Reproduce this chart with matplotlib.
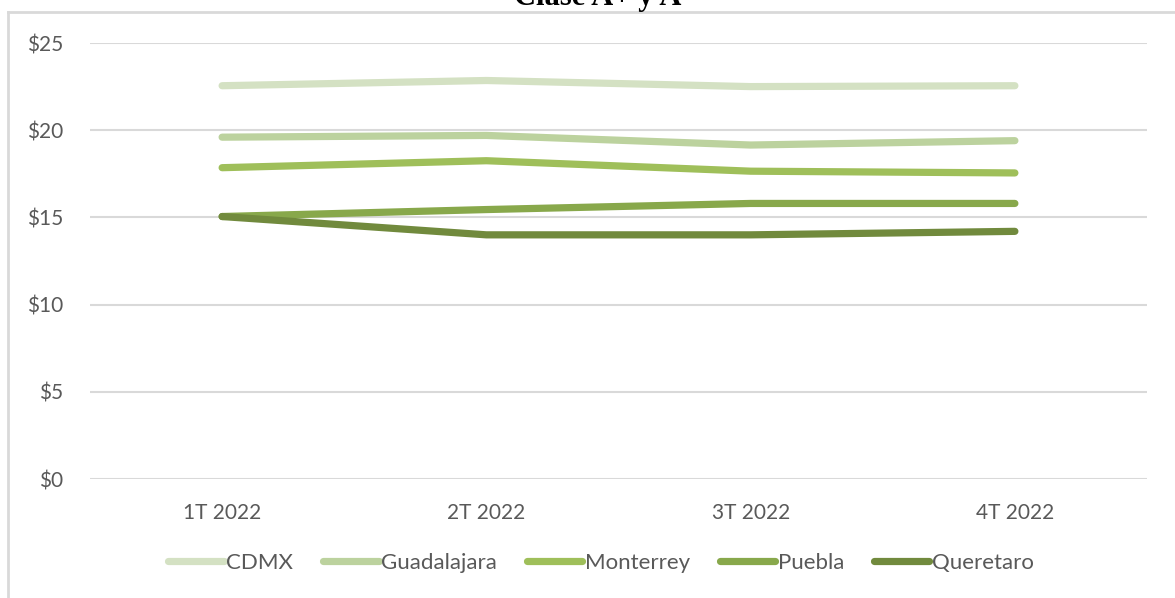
import matplotlib
matplotlib.use("Agg")
import matplotlib.pyplot as plt
from matplotlib.lines import Line2D

# datos
trimestres = ["1T 2022", "2T 2022", "3T 2022", "4T 2022"]
cdmx = [22.55, 22.85, 22.5, 22.55]
guadalajara = [19.6, 19.7, 19.15, 19.4]
monterrey = [17.85, 18.25, 17.65, 17.55]
puebla = [15.05, 15.45, 15.8, 15.8]
queretaro = [15.05, 14.0, 14.0, 14.2]

series = {
    "CDMX": cdmx,
    "Guadalajara": guadalajara,
    "Monterrey": monterrey,
    "Puebla": puebla,
    "Queretaro": queretaro,
}
colores = ["#d4e1c3", "#bcd29e", "#9fbf5a", "#88a84b", "#718a3d"]

plt.rcParams["font.family"] = ["Lato", "DejaVu Sans"]

W, H = 1175, 598
fig = plt.figure(figsize=(W / 100, H / 100), dpi=100)
ax = fig.add_axes([90 / W, 1 - 479 / H, (1147 - 90) / W, (479 - 43) / H])

x = range(len(trimestres))
for (nombre, valores), c in zip(series.items(), colores):
    ax.plot(x, valores, color=c, lw=5.2, solid_capstyle="round",
            solid_joinstyle="round", label=nombre)

ax.set_xlim(-0.5, len(trimestres) - 0.5)
ax.set_ylim(0, 25)
ax.set_yticks(range(0, 26, 5))
ax.set_yticklabels([f"${v}" for v in range(0, 26, 5)])
ax.set_xticks(list(x))
ax.set_xticklabels(trimestres)
ax.yaxis.grid(True, color="#d9d9d9", lw=1.5)
ax.set_axisbelow(True)
for s in ax.spines.values():
    s.set_visible(False)
ax.tick_params(axis="both", length=0, labelsize=15, colors="#595959")
ax.tick_params(axis="y", pad=19.5)
ax.tick_params(axis="x", pad=17)

leg = fig.legend(loc="center", bbox_to_anchor=(601 / W, 1 - 563 / H), ncol=5,
                 frameon=False, fontsize=16, handlelength=2.5, handletextpad=0.1,
                 columnspacing=1.35, labelcolor="#595959")

# borde del area del grafico
fig.add_artist(Line2D([8 / W, 1.0], [1 - 12 / H, 1 - 12 / H], color="#d9d9d9", lw=2))
fig.add_artist(Line2D([8 / W, 8 / W], [1 - 12 / H, 0.0], color="#d9d9d9", lw=2))

fig.text(598 / W, 1 - 5 / H, "Clase A+ y A", ha="center", va="baseline",
         fontsize=22, fontweight="bold", family="Liberation Serif")

fig.savefig("out.png", dpi=100)
